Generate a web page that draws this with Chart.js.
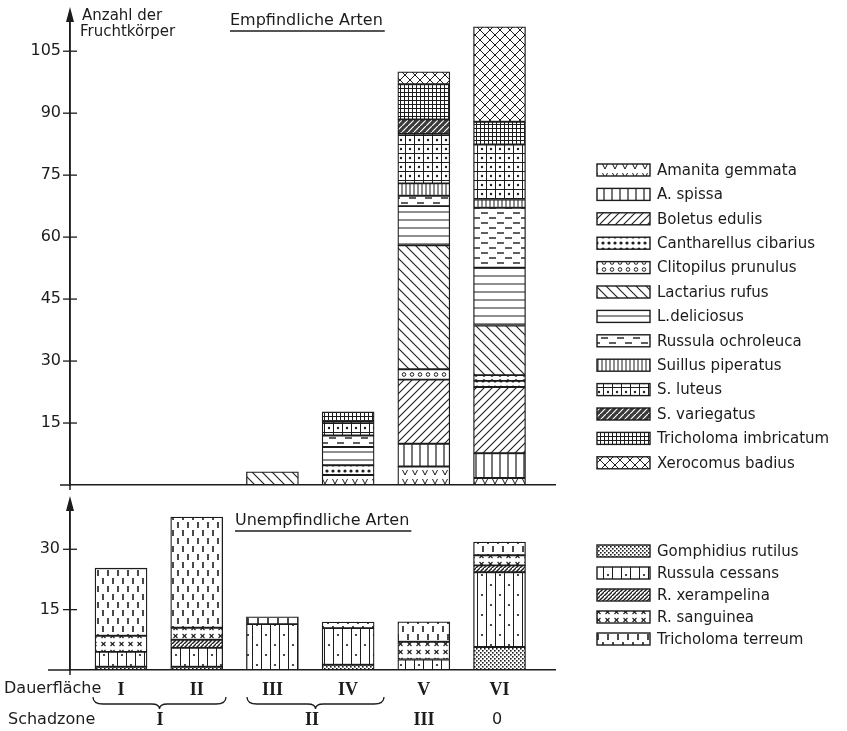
<!DOCTYPE html>
<html><head><meta charset="utf-8">
<script src="https://cdn.jsdelivr.net/npm/chart.js@4"></script>
<style>
html,body{margin:0;padding:0;background:#fff;}
#wrap{position:relative;width:847px;height:731px;background:#fff;}
#wrap canvas{position:absolute;left:0;top:0;}
</style></head><body>
<div id="wrap"><canvas id="topC" width="847" height="731"></canvas><canvas id="botC" width="847" height="731"></canvas></div>
<script>
// ---------- DATA ----------
const categories = ['I','II','III','IV','V','VI'];   // Dauerfläche
const zoneLabels = ['I','II','III','0'];              // Schadzone
const topTicks = [15,30,45,60,75,90,105];
const bottomTicks = [15,30];

// Empfindliche Arten (stack order bottom -> top)
const amanitaGemmata      = [0,0,0,2.4,4.5,1.7];
const aSpissa             = [0,0,0,0,5.5,6];
const boletusEdulis       = [0,0,0,0,15.5,16];
const cantharellusCibarius= [0,0,0,2.4,0,1.5];
const clitopilusPrunulus  = [0,0,0,0,2.5,1.4];
const lactariusRufus      = [0,0,3.2,0,30,12];
const lDeliciosus         = [0,0,0,4.4,9.5,14];
const russulaOchroleuca   = [0,0,0,2.8,2.5,14.5];
const suillusPiperatus    = [0,0,0,0,3,2];
const sLuteus             = [0,0,0,3.3,12,13.3];
const sVariegatus         = [0,0,0,0,3.5,0];
const tricholomaImbricatum= [0,0,0,2.4,8.5,5.5];
const xerocomusBadius     = [0,0,0,0,3,23];

// Unempfindliche Arten
const gomphidiusRutilus   = [0.8,0.8,0,1.3,0,5.7];
const russulaCessans      = [3.7,4.7,11.4,9.1,2.6,18.6];
const rXerampelina        = [0,2,0,0,0,1.7];
const rSanguinea          = [4,3,0,0,4.4,2.5];
const tricholomaTerreum   = [16.8,27.5,1.8,1.5,5,3.3];

// ---------- STYLE ----------
const INK = '#1c1c1c';
const SANS = '"DejaVu Sans", sans-serif';
const SERIF = '"Liberation Serif", serif';
function tile(w,h,fn,bg){
  const c=document.createElement('canvas'); c.width=w; c.height=h;
  const g=c.getContext('2d');
  g.fillStyle=bg||'#fff'; g.fillRect(0,0,w,h);
  g.strokeStyle=INK; g.fillStyle=INK; g.lineWidth=1;
  fn(g,w,h);
  return g.createPattern(c,'repeat');
}
function ln(g,x1,y1,x2,y2,lw){ if(lw) g.lineWidth=lw; g.beginPath(); g.moveTo(x1,y1); g.lineTo(x2,y2); g.stroke(); }
function dt(g,x,y,r){ g.beginPath(); g.arc(x,y,r,0,Math.PI*2); g.fill(); }
const P = {
  amanita: tile(10,9,g=>{g.beginPath();g.moveTo(2.5,2);g.lineTo(5,7);g.lineTo(7.5,2);g.stroke();}),
  spissa: tile(8,8,g=>ln(g,4,0,4,8,1.2)),
  boletus: tile(8,8,g=>{ln(g,-1,9,9,-1,1.1);ln(g,-1,1,1,-1);ln(g,7,9,9,7);}),
  canth: tile(6,6,g=>dt(g,3,3,1.6)),
  clito: tile(8,7,g=>{g.beginPath();g.arc(4,3.5,1.8,0,Math.PI*2);g.stroke();}),
  lact: tile(10,10,g=>{ln(g,-1,-1,11,11,1.1);ln(g,9,-1,11,1);ln(g,-1,9,1,11);}),
  delic: tile(8,8,g=>ln(g,0,4,8,4,1)),
  ochro: tile(16,10,g=>{ln(g,1,3,8,3,1.4);ln(g,9,8,16,8,1.4);}),
  piper: tile(4,4,g=>ln(g,2,0,2,4,1)),
  luteus: tile(9,9,g=>{ln(g,0,0.5,9,0.5,1);ln(g,0.5,0,0.5,9,1);dt(g,5,5,1.2);}),
  varieg: tile(6,6,g=>{g.strokeStyle='#fff';ln(g,-1,7,7,-1,1.2);}, '#3a3a3a'),
  imbric: tile(4,4,g=>{ln(g,0,0.5,4,0.5,1);ln(g,0.5,0,0.5,4,1);}),
  xero: tile(10,10,g=>{ln(g,-1,-1,11,11,1);ln(g,11,-1,-1,11,1);}),
  gomph: tile(4,4,g=>{g.fillRect(0,0,1.6,1.6);g.fillRect(2,2,1.6,1.6);}),
  cessans: tile(18,20,g=>{ln(g,0.5,0,0.5,20,1);ln(g,9.5,0,9.5,20,1);dt(g,5,5,1.1);dt(g,14,15,1.1);}),
  xeramp: tile(4,4,g=>{ln(g,-1,5,5,-1,1.4);ln(g,3,5,5,3,1.4);}),
  sang: tile(9,8,g=>{ln(g,2.5,2,6.5,6,1.1);ln(g,6.5,2,2.5,6,1.1);}),
  terreum: tile(10,16,g=>{ln(g,3,2,3,8,1.6);ln(g,8,10,8,16,1.6);})
};

const topSeries = [
  ['Amanita gemmata', amanitaGemmata, P.amanita],
  ['A. spissa', aSpissa, P.spissa],
  ['Boletus edulis', boletusEdulis, P.boletus],
  ['Cantharellus cibarius', cantharellusCibarius, P.canth],
  ['Clitopilus prunulus', clitopilusPrunulus, P.clito],
  ['Lactarius rufus', lactariusRufus, P.lact],
  ['L.deliciosus', lDeliciosus, P.delic],
  ['Russula ochroleuca', russulaOchroleuca, P.ochro],
  ['Suillus piperatus', suillusPiperatus, P.piper],
  ['S. luteus', sLuteus, P.luteus],
  ['S. variegatus', sVariegatus, P.varieg],
  ['Tricholoma imbricatum', tricholomaImbricatum, P.imbric],
  ['Xerocomus badius', xerocomusBadius, P.xero]
];
const bottomSeries = [
  ['Gomphidius rutilus', gomphidiusRutilus, P.gomph],
  ['Russula cessans', russulaCessans, P.cessans],
  ['R. xerampelina', rXerampelina, P.xeramp],
  ['R. sanguinea', rSanguinea, P.sang],
  ['Tricholoma terreum', tricholomaTerreum, P.terreum]
];
function ds(s){
  return {label:s[0], data:s[1].map((v,i)=>({x:i+1, y: v>0 ? v : null})),
    backgroundColor:s[2], borderColor:INK, borderWidth:1.3, borderSkipped:false,
    barThickness:52, stack:'s'};
}

// ---------- helpers for extra drawing ----------
function brace(ctx,x1,x2,y){
  const m=(x1+x2)/2, d=7;
  ctx.beginPath();
  ctx.moveTo(x1,y);
  ctx.quadraticCurveTo(x1,y+d,x1+10,y+d);
  ctx.lineTo(m-8,y+d);
  ctx.quadraticCurveTo(m,y+d,m,y+d+5);
  ctx.quadraticCurveTo(m,y+d,m+8,y+d);
  ctx.lineTo(x2-10,y+d);
  ctx.quadraticCurveTo(x2,y+d,x2,y);
  ctx.stroke();
}
const extras = {
  id:'extras',
  afterDraw(chart,args,o){
    const ctx=chart.ctx, ca=chart.chartArea, ys=chart.scales.y;
    ctx.save();
    ctx.strokeStyle=INK; ctx.fillStyle=INK; ctx.lineWidth=1.5;
    // y-axis extension and arrow
    ctx.beginPath(); ctx.moveTo(ca.left,o.arrowTip+8); ctx.lineTo(ca.left,ca.bottom+5); ctx.stroke();
    ctx.beginPath(); ctx.moveTo(ca.left,o.arrowTip); ctx.lineTo(ca.left-4,o.arrowTip+15); ctx.lineTo(ca.left+4,o.arrowTip+15); ctx.closePath(); ctx.fill();
    // baseline extension
    ctx.beginPath(); ctx.moveTo(o.baseLeft,ca.bottom); ctx.lineTo(ca.left,ca.bottom); ctx.stroke();
    // tick dashes crossing axis
    ctx.lineWidth=1.3;
    ys.ticks.forEach(t=>{ if(o.ticks.includes(t.value)){ const y=ys.getPixelForValue(t.value); ctx.beginPath(); ctx.moveTo(ca.left-7,y); ctx.lineTo(ca.left+7,y); ctx.stroke(); }});
    // texts
    ctx.textBaseline='middle';
    o.texts.forEach(t=>{
      ctx.font=t.font; ctx.textAlign=t.align||'left';
      ctx.fillText(t.t,t.x,t.y);
      if(t.ul){ const w=ctx.measureText(t.t).width; ctx.lineWidth=1.3; ctx.beginPath(); ctx.moveTo(t.x,t.y+10); ctx.lineTo(t.x+w+2,t.y+10); ctx.stroke(); }
    });
    ctx.lineWidth=1.3;
    (o.braces||[]).forEach(b=>brace(ctx,b[0],b[1],b[2]));
    // legend
    ctx.font='15px '+SANS; ctx.textAlign='left';
    chart.data.datasets.forEach((d,i)=>{
      const y=o.legY+i*o.legStep, x=597;
      ctx.fillStyle='#fff'; ctx.fillRect(x,y-6,53,12);
      ctx.fillStyle=d.backgroundColor; ctx.fillRect(x,y-6,53,12);
      ctx.lineWidth=1.4; ctx.strokeStyle=INK; ctx.strokeRect(x,y-6,53,12);
      ctx.fillStyle=INK; ctx.fillText(d.label,x+60,y+1);
    });
    ctx.restore();
  }
};

function zeroPad(s){ s.paddingTop=0; s.paddingBottom=0; s.paddingLeft=0; s.paddingRight=0; }
const xMin=0.326, xMax=6.733;

new Chart(document.getElementById('topC'),{
  type:'bar',
  data:{datasets: topSeries.map(ds)},
  options:{
    responsive:false, animation:false, events:[],
    layout:{padding:{left:0,top:14,right:292,bottom:246}},
    scales:{
      x:{type:'linear',min:xMin,max:xMax,offset:false,grid:{display:false,offset:false},
         border:{display:true,color:INK,width:1.5},ticks:{display:false},
         afterFit(s){s.height=0;zeroPad(s);}},
      y:{stacked:true,min:0,max:114,grid:{display:false,drawTicks:false},
         border:{display:true,color:INK,width:1.5},
         afterBuildTicks(s){ s.ticks=[0].concat(topTicks).map(v=>({value:v})); },
         ticks:{padding:9,color:INK,font:{family:SANS,size:16},callback:v=>topTicks.includes(v)?String(v):''},
         afterFit(s){s.width=70;zeroPad(s);}}
    },
    plugins:{legend:{display:false},tooltip:{enabled:false},
      extras:{arrowTip:7,baseLeft:60,ticks:topTicks,legY:170,legStep:24.4,
        texts:[
          {t:'Anzahl der',x:82,y:16,font:'15px '+SANS},
          {t:'Fruchtkörper',x:80,y:32,font:'15px '+SANS},
          {t:'Empfindliche Arten',x:230,y:21,font:'16px '+SANS,ul:true}
        ]}}
  },
  plugins:[extras]
});

new Chart(document.getElementById('botC'),{
  type:'bar',
  data:{datasets: bottomSeries.map(ds)},
  options:{
    responsive:false, animation:false, events:[],
    layout:{padding:{left:0,top:503,right:292,bottom:0}},
    scales:{
      x:{type:'linear',min:xMin,max:xMax,offset:false,grid:{display:false,offset:false,drawTicks:false},
         border:{display:true,color:INK,width:1.5},
         afterBuildTicks(s){ s.ticks=categories.map((c,i)=>({value:i+1})); },
         ticks:{autoSkip:false,maxRotation:0,padding:10,color:INK,font:{family:SERIF,size:18,weight:'bold'},
           callback:v=>categories[Math.round(v)-1]},
         afterFit(s){s.height=61;zeroPad(s);}},
      y:{stacked:true,min:0,max:41.5,grid:{display:false,drawTicks:false},
         border:{display:true,color:INK,width:1.5},
         afterBuildTicks(s){ s.ticks=[0].concat(bottomTicks).map(v=>({value:v})); },
         ticks:{padding:10,color:INK,font:{family:SANS,size:16},callback:v=>bottomTicks.includes(v)?String(v):''},
         afterFit(s){s.width=70;zeroPad(s);}}
    },
    plugins:{legend:{display:false},tooltip:{enabled:false},
      extras:{arrowTip:496,baseLeft:48,ticks:bottomTicks,legY:551,legStep:22,
        texts:[
          {t:'Unempfindliche Arten',x:235,y:521,font:'16px '+SANS,ul:true},
          {t:'Dauerfläche',x:4,y:689,font:'16px '+SANS},
          {t:'Schadzone',x:8,y:720,font:'16px '+SANS},
          {t:zoneLabels[0],x:160,y:720,font:'bold 18px '+SERIF,align:'center'},
          {t:zoneLabels[1],x:312,y:720,font:'bold 18px '+SERIF,align:'center'},
          {t:zoneLabels[2],x:424,y:720,font:'bold 18px '+SERIF,align:'center'},
          {t:zoneLabels[3],x:497,y:720,font:'16px '+SANS,align:'center'}
        ],
        braces:[[93,226,697],[247,384,697]]}}
  },
  plugins:[extras]
});
</script>
</body></html>
